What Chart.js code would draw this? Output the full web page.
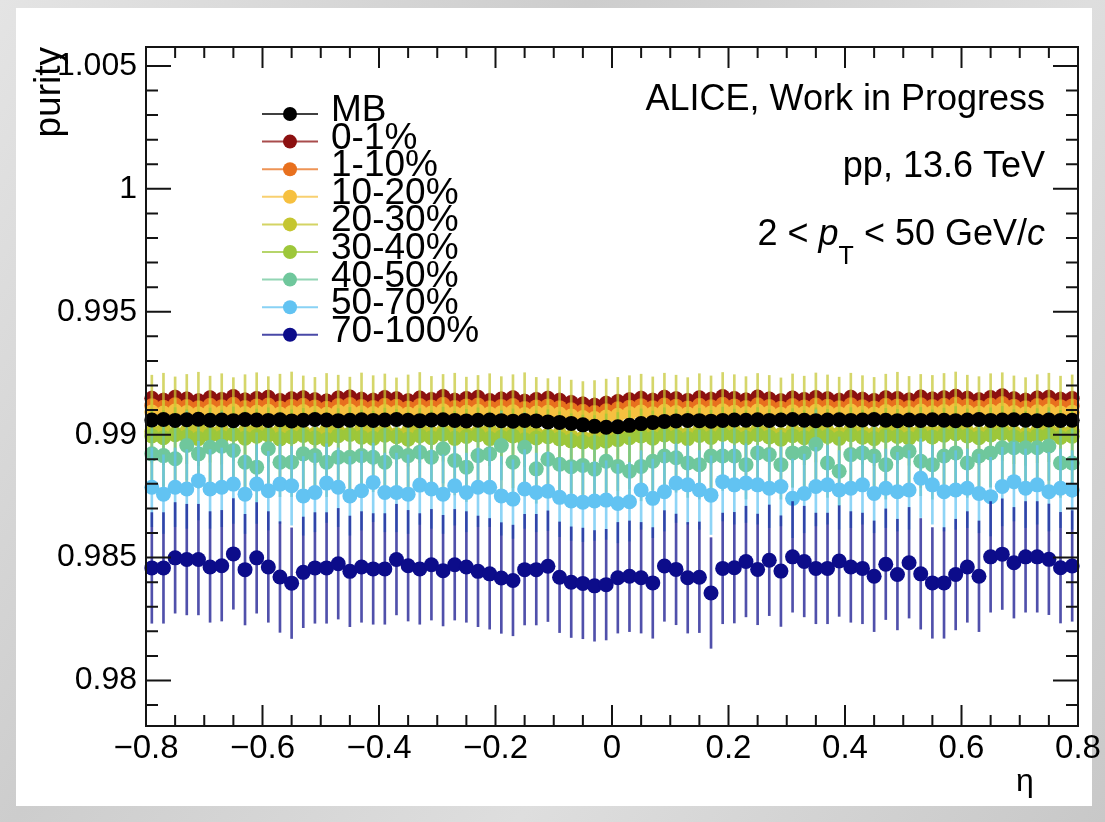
<!DOCTYPE html>
<html>
<head>
<meta charset="utf-8">
<title>purity vs eta</title>
<script src="https://cdn.jsdelivr.net/npm/chart.js@4.4.1/dist/chart.umd.min.js"></script>
<style>
  html, body { margin: 0; padding: 0; }
  body {
    width: 1105px; height: 822px; overflow: hidden; position: relative;
    background: linear-gradient(125deg, #e4e4e4 0%, #cdcdcd 35%, #dedede 65%, #c8c8c8 100%);
  }
  #panel { position: absolute; left: 16px; top: 8px; width: 1076px; height: 798px; background: #fff; }
  #purityChart { position: absolute; left: 0; top: 0; }
</style>
</head>
<body>
<div id="panel"></div>
<canvas id="purityChart" width="1105" height="822"></canvas>
<script>
// eta bin centres (80 bins, width 0.02)
const eta = [
  -0.79, -0.77, -0.75, -0.73, -0.71, -0.69, -0.67, -0.65, -0.63, -0.61,
  -0.59, -0.57, -0.55, -0.53, -0.51, -0.49, -0.47, -0.45, -0.43, -0.41,
  -0.39, -0.37, -0.35, -0.33, -0.31, -0.29, -0.27, -0.25, -0.23, -0.21,
  -0.19, -0.17, -0.15, -0.13, -0.11, -0.09, -0.07, -0.05, -0.03, -0.01,
  0.01, 0.03, 0.05, 0.07, 0.09, 0.11, 0.13, 0.15, 0.17, 0.19,
  0.21, 0.23, 0.25, 0.27, 0.29, 0.31, 0.33, 0.35, 0.37, 0.39,
  0.41, 0.43, 0.45, 0.47, 0.49, 0.51, 0.53, 0.55, 0.57, 0.59,
  0.61, 0.63, 0.65, 0.67, 0.69, 0.71, 0.73, 0.75, 0.77, 0.79
];

const centLabels = ['MB', '0-1%', '1-10%', '10-20%', '20-30%', '30-40%', '40-50%', '50-70%', '70-100%'];
const centColors = ['#000000', '#8c1010', '#e8701e', '#f6c040', '#c5c630', '#9dc73a', '#6fc79c', '#62c3f2', '#0c0c8a'];

const purityMB = [
  0.99060, 0.99062, 0.99058, 0.99061, 0.99063, 0.99059, 0.99060, 0.99057, 0.99062, 0.99060,
  0.99058, 0.99061, 0.99056, 0.99059, 0.99062, 0.99060, 0.99057, 0.99059, 0.99061, 0.99058,
  0.99060, 0.99062, 0.99059, 0.99057, 0.99060, 0.99061, 0.99058, 0.99056, 0.99059, 0.99060,
  0.99057, 0.99055, 0.99058, 0.99056, 0.99052, 0.99050, 0.99046, 0.99040, 0.99034, 0.99030,
  0.99032, 0.99038, 0.99045, 0.99050, 0.99054, 0.99056, 0.99058, 0.99057, 0.99055, 0.99058,
  0.99060, 0.99059, 0.99061, 0.99058, 0.99060, 0.99062, 0.99059, 0.99057, 0.99060, 0.99061,
  0.99058, 0.99060, 0.99062, 0.99059, 0.99057, 0.99060, 0.99058, 0.99061, 0.99059, 0.99057,
  0.99060, 0.99062, 0.99058, 0.99060, 0.99061, 0.99059, 0.99057, 0.99060, 0.99058, 0.99059
];
const purity0to1 = [
  0.99148, 0.99140, 0.99152, 0.99145, 0.99138, 0.99150, 0.99143, 0.99155, 0.99141, 0.99147,
  0.99152, 0.99139, 0.99146, 0.99150, 0.99142, 0.99137, 0.99149, 0.99153, 0.99144, 0.99140,
  0.99151, 0.99146, 0.99138, 0.99149, 0.99143, 0.99155, 0.99140, 0.99147, 0.99152, 0.99139,
  0.99145, 0.99150, 0.99136, 0.99143, 0.99148, 0.99140, 0.99131, 0.99125, 0.99120, 0.99128,
  0.99135, 0.99142, 0.99148, 0.99140, 0.99152, 0.99146, 0.99139, 0.99150, 0.99144, 0.99155,
  0.99147, 0.99141, 0.99153, 0.99145, 0.99138, 0.99149, 0.99143, 0.99151, 0.99146, 0.99140,
  0.99152, 0.99144, 0.99139, 0.99150, 0.99147, 0.99141, 0.99153, 0.99145, 0.99150, 0.99156,
  0.99148, 0.99142, 0.99151, 0.99158, 0.99146, 0.99140, 0.99149, 0.99152, 0.99144, 0.99147
];
const purity1to10 = [
  0.99118, 0.99112, 0.99122, 0.99115, 0.99110, 0.99120, 0.99114, 0.99124, 0.99111, 0.99117,
  0.99121, 0.99109, 0.99116, 0.99120, 0.99113, 0.99108, 0.99119, 0.99123, 0.99115, 0.99111,
  0.99120, 0.99116, 0.99109, 0.99119, 0.99113, 0.99124, 0.99111, 0.99117, 0.99121, 0.99110,
  0.99115, 0.99119, 0.99107, 0.99113, 0.99117, 0.99110, 0.99101, 0.99095, 0.99090, 0.99097,
  0.99105, 0.99112, 0.99118, 0.99110, 0.99121, 0.99116, 0.99109, 0.99120, 0.99114, 0.99124,
  0.99117, 0.99111, 0.99122, 0.99115, 0.99108, 0.99119, 0.99113, 0.99121, 0.99116, 0.99110,
  0.99122, 0.99114, 0.99109, 0.99120, 0.99117, 0.99111, 0.99122, 0.99115, 0.99120, 0.99125,
  0.99118, 0.99112, 0.99121, 0.99127, 0.99116, 0.99110, 0.99119, 0.99122, 0.99114, 0.99117
];
const purity10to20 = [
  0.99092, 0.99088, 0.99096, 0.99090, 0.99085, 0.99094, 0.99089, 0.99097, 0.99086, 0.99091,
  0.99095, 0.99084, 0.99090, 0.99094, 0.99087, 0.99083, 0.99093, 0.99096, 0.99089, 0.99086,
  0.99094, 0.99090, 0.99084, 0.99093, 0.99088, 0.99097, 0.99086, 0.99091, 0.99095, 0.99085,
  0.99089, 0.99093, 0.99082, 0.99088, 0.99091, 0.99084, 0.99076, 0.99070, 0.99066, 0.99072,
  0.99079, 0.99086, 0.99092, 0.99085, 0.99095, 0.99090, 0.99084, 0.99094, 0.99088, 0.99097,
  0.99091, 0.99086, 0.99096, 0.99089, 0.99083, 0.99093, 0.99087, 0.99095, 0.99090, 0.99085,
  0.99096, 0.99088, 0.99084, 0.99094, 0.99091, 0.99086, 0.99096, 0.99089, 0.99094, 0.99098,
  0.99092, 0.99087, 0.99095, 0.99100, 0.99090, 0.99085, 0.99093, 0.99096, 0.99088, 0.99091
];
const purity20to30 = [
  0.99012, 0.99020, 0.99005, 0.99015, 0.99024, 0.99008, 0.99018, 0.99002, 0.99014, 0.99022,
  0.99006, 0.99016, 0.99025, 0.99009, 0.99003, 0.99019, 0.99012, 0.99004, 0.99021, 0.99010,
  0.99017, 0.99001, 0.99013, 0.99023, 0.99007, 0.99015, 0.99020, 0.99004, 0.99011, 0.99018,
  0.99006, 0.99014, 0.99022, 0.99003, 0.98998, 0.99005, 0.98992, 0.98986, 0.98990, 0.98996,
  0.99003, 0.99010, 0.99016, 0.99005, 0.99020, 0.99012, 0.99002, 0.99018, 0.99009, 0.99023,
  0.99014, 0.99006, 0.99019, 0.99011, 0.99001, 0.99017, 0.99008, 0.99021, 0.99013, 0.99004,
  0.99020, 0.99010, 0.99003, 0.99016, 0.99024, 0.99007, 0.99015, 0.99011, 0.99019, 0.99025,
  0.99012, 0.99006, 0.99018, 0.99022, 0.99009, 0.99002, 0.99014, 0.99020, 0.99008, 0.99013
];
const purity30to40 = [
  0.98995, 0.98988, 0.99000, 0.98992, 0.98984, 0.98998, 0.98990, 0.99003, 0.98986, 0.98994,
  0.98999, 0.98983, 0.98991, 0.98997, 0.98987, 0.98980, 0.98996, 0.99001, 0.98990, 0.98985,
  0.98998, 0.98992, 0.98982, 0.98996, 0.98988, 0.99002, 0.98985, 0.98993, 0.98999, 0.98984,
  0.98990, 0.98995, 0.98979, 0.98987, 0.98992, 0.98983, 0.98975, 0.98970, 0.98968, 0.98974,
  0.98980, 0.98988, 0.98995, 0.98986, 0.98999, 0.98992, 0.98984, 0.98997, 0.98989, 0.99002,
  0.98994, 0.98987, 0.99000, 0.98991, 0.98982, 0.98996, 0.98988, 0.98999, 0.98993, 0.98985,
  0.99000, 0.98990, 0.98984, 0.98997, 0.98993, 0.98986, 0.99001, 0.98991, 0.98998, 0.99004,
  0.98995, 0.98988, 0.98999, 0.99005, 0.98992, 0.98985, 0.98996, 0.99000, 0.98989, 0.98994
];
const purity40to50 = [
  0.98922, 0.98915, 0.98902, 0.98956, 0.98922, 0.98949, 0.98953, 0.98936, 0.98888, 0.98868,
  0.98943, 0.98888, 0.98888, 0.98922, 0.98915, 0.98888, 0.98908, 0.98908, 0.98915, 0.98908,
  0.98888, 0.98929, 0.98915, 0.98929, 0.98908, 0.98943, 0.98895, 0.98868, 0.98915, 0.98922,
  0.98956, 0.98888, 0.98949, 0.98861, 0.98900, 0.98880, 0.98870, 0.98875, 0.98860, 0.98892,
  0.98871, 0.98851, 0.98871, 0.98892, 0.98913, 0.98906, 0.98885, 0.98878, 0.98913, 0.98913,
  0.98913, 0.98878, 0.98926, 0.98919, 0.98878, 0.98926, 0.98926, 0.98961, 0.98885, 0.98851,
  0.98919, 0.98926, 0.98913, 0.98878, 0.98926, 0.98933, 0.98892, 0.98878, 0.98913, 0.98926,
  0.98885, 0.98913, 0.98926, 0.98947, 0.98947, 0.98947, 0.98947, 0.98954, 0.98885, 0.98885
];
const purity50to70 = [
  0.98786, 0.98758, 0.98786, 0.98779, 0.98813, 0.98779, 0.98786, 0.98799, 0.98758, 0.98799,
  0.98772, 0.98799, 0.98792, 0.98751, 0.98765, 0.98803, 0.98786, 0.98751, 0.98772, 0.98806,
  0.98765, 0.98765, 0.98758, 0.98795, 0.98779, 0.98758, 0.98792, 0.98765, 0.98786, 0.98786,
  0.98751, 0.98738, 0.98779, 0.98765, 0.98770, 0.98745, 0.98730, 0.98725, 0.98730, 0.98734,
  0.98720, 0.98727, 0.98775, 0.98741, 0.98768, 0.98803, 0.98796, 0.98775, 0.98754, 0.98809,
  0.98796, 0.98803, 0.98796, 0.98782, 0.98789, 0.98741, 0.98761, 0.98789, 0.98796, 0.98775,
  0.98782, 0.98796, 0.98761, 0.98782, 0.98768, 0.98775, 0.98823, 0.98796, 0.98768, 0.98775,
  0.98782, 0.98761, 0.98748, 0.98789, 0.98809, 0.98782, 0.98796, 0.98768, 0.98782, 0.98775
];
const purity70to100 = [
  0.98458, 0.98458, 0.98499, 0.98492, 0.98492, 0.98462, 0.98467, 0.98515, 0.98451, 0.98499,
  0.98462, 0.98421, 0.98396, 0.98440, 0.98458, 0.98458, 0.98475, 0.98444, 0.98462, 0.98454,
  0.98454, 0.98492, 0.98467, 0.98454, 0.98471, 0.98447, 0.98471, 0.98462, 0.98444, 0.98434,
  0.98417, 0.98407, 0.98451, 0.98451, 0.98465, 0.98420, 0.98400, 0.98395, 0.98385, 0.98390,
  0.98418, 0.98424, 0.98418, 0.98397, 0.98466, 0.98452, 0.98418, 0.98420, 0.98356, 0.98456,
  0.98459, 0.98484, 0.98452, 0.98489, 0.98445, 0.98503, 0.98484, 0.98456, 0.98456, 0.98486,
  0.98462, 0.98456, 0.98424, 0.98473, 0.98431, 0.98479, 0.98434, 0.98397, 0.98397, 0.98431,
  0.98462, 0.98424, 0.98503, 0.98514, 0.98479, 0.98503, 0.98503, 0.98493, 0.98459, 0.98466
];

// statistical uncertainty per class (symmetric)
const centErrors = [0.0001, 0.0003, 0.0002, 0.0005, 0.0023, 0.0011, 0.0014, 0.0016, 0.00225];

const centValues = [purityMB, purity0to1, purity1to10, purity10to20, purity20to30,
  purity30to40, purity40to50, purity50to70, purity70to100];

const FONT = "'Liberation Sans', Arial, Helvetica, sans-serif";

function fade(hex, a) {
    const n = parseInt(hex.slice(1), 16);
    return `rgba(${(n >> 16) & 255}, ${(n >> 8) & 255}, ${n & 255}, ${a})`;
}

// one marker dataset and one error-bar dataset (floating bars) per class
const datasets = [];
centLabels.forEach((label, i) => {
    const order = i === 0 ? 0 : centLabels.length - i; // MB drawn last, 0-1% first
    const vals = centValues[i];
    const err = centErrors[i];
    datasets.push({
        type: 'scatter',
        label: label,
        order: order,
        data: eta.map((x, k) => ({ x: x, y: vals[k] })),
        backgroundColor: centColors[i],
        borderColor: centColors[i],
        pointRadius: 7.5,
        pointHoverRadius: 7.5,
        pointBorderWidth: 0,
        clip: false
    });
    datasets.push({
        type: 'bar',
        label: label + ' stat',
        order: order,
        data: eta.map((x, k) => ({ x: x, y: [vals[k] - err, vals[k] + err] })),
        backgroundColor: fade(centColors[i], 0.72),
        borderWidth: 0,
        grouped: false,
        barThickness: 2,
        maxBarThickness: 2
    });
});

// ROOT-like frame with inward major/minor ticks on all four sides
const rootFrame = {
    id: 'rootFrame',
    afterDatasetsDraw(chart) {
        const { ctx, chartArea: a, scales: { x, y } } = chart;
        ctx.save();
        ctx.strokeStyle = '#141414';
        ctx.lineWidth = 2;
        ctx.beginPath();
        for (let k = 0; k <= 32; k++) {
            const px = x.getPixelForValue(-0.8 + k * 0.05);
            const len = k % 4 === 0 ? 21 : 11;
            ctx.moveTo(px, a.bottom); ctx.lineTo(px, a.bottom - len);
            ctx.moveTo(px, a.top); ctx.lineTo(px, a.top + len);
        }
        for (let m = 979; m <= 1005; m++) {
            const py = y.getPixelForValue(m / 1000);
            const len = m % 5 === 0 ? 25 : 12;
            ctx.moveTo(a.left, py); ctx.lineTo(a.left + len, py);
            ctx.moveTo(a.right, py); ctx.lineTo(a.right - len, py);
        }
        ctx.stroke();
        ctx.strokeRect(a.left, a.top, a.right - a.left, a.bottom - a.top);
        ctx.restore();
    }
};

// legend, labels and axis title eta
const rootText = {
    id: 'rootText',
    afterDraw(chart) {
        const ctx = chart.ctx;
        ctx.save();
        ctx.fillStyle = '#000';
        ctx.textBaseline = 'alphabetic';

        // legend block
        centLabels.forEach((label, i) => {
            const ly = 114 + i * 27.6;
            ctx.strokeStyle = fade(centColors[i], 0.75);
            ctx.lineWidth = 2;
            ctx.beginPath();
            ctx.moveTo(262, ly); ctx.lineTo(318, ly);
            ctx.stroke();
            ctx.fillStyle = centColors[i];
            ctx.beginPath();
            ctx.arc(290, ly, 7, 0, Math.PI * 2);
            ctx.fill();
            ctx.fillStyle = '#000';
            ctx.font = `37px ${FONT}`;
            ctx.textAlign = 'left';
            ctx.fillText(label, 331, ly + 7);
        });

        // right-hand labels
        ctx.textAlign = 'right';
        ctx.font = `36px ${FONT}`;
        ctx.fillText('ALICE, Work in Progress', 1045, 110);
        ctx.fillText('pp, 13.6 TeV', 1045, 177);

        const pieces = [
            { text: '2 < ', font: `36px ${FONT}`, dy: 0 },
            { text: 'p', font: `italic 36px ${FONT}`, dy: 0 },
            { text: 'T', font: `25px ${FONT}`, dy: 19 },
            { text: ' < 50 GeV/', font: `36px ${FONT}`, dy: 0 },
            { text: 'c', font: `italic 36px ${FONT}`, dy: 0 }
        ];
        let total = 0;
        pieces.forEach(p => { ctx.font = p.font; p.w = ctx.measureText(p.text).width; total += p.w; });
        let px = 1045 - total;
        ctx.textAlign = 'left';
        pieces.forEach(p => {
            ctx.font = p.font;
            ctx.fillText(p.text, px, 245 + p.dy);
            px += p.w;
        });

        // x axis title
        ctx.textAlign = 'center';
        ctx.font = `32px ${FONT}`;
        ctx.fillText('\u03b7', 1025, 791);
        ctx.restore();
    }
};

const ctx = document.getElementById('purityChart').getContext('2d');
new Chart(ctx, {
    type: 'scatter',
    data: { datasets: datasets },
    options: {
        responsive: false,
        animation: false,
        events: [],
        layout: { padding: { top: 47, right: 27, bottom: 0, left: 0 } },
        plugins: {
            legend: { display: false },
            tooltip: { enabled: false }
        },
        scales: {
            x: {
                type: 'linear',
                min: -0.8,
                max: 0.8,
                offset: false,
                grid: { display: false, drawTicks: false, offset: false },
                border: { display: false },
                ticks: {
                    stepSize: 0.2,
                    autoSkip: false,
                    maxRotation: 0,
                    padding: 3,
                    color: '#000',
                    font: { family: FONT, size: 33 },
                    callback: v => {
                        const r = Math.round(v * 10) / 10;
                        return r === 0 ? '0' : r.toFixed(1).replace('-', '\u2212');
                    }
                },
                afterFit: scale => {
                    scale.height = 96;
                    scale.paddingLeft = 0;
                    scale.paddingRight = 0;
                }
            },
            y: {
                type: 'linear',
                min: 0.97815,
                max: 1.00577,
                beginAtZero: false,
                grid: { display: false, drawTicks: false },
                border: { display: false },
                title: {
                    display: true,
                    text: 'purity',
                    align: 'end',
                    color: '#000',
                    font: { family: FONT, size: 37 },
                    padding: { top: 28, bottom: 0 }
                },
                ticks: {
                    stepSize: 0.005,
                    includeBounds: false,
                    autoSkip: false,
                    padding: 9,
                    color: '#000',
                    font: { family: FONT, size: 32 },
                    callback: v => String(parseFloat(v.toFixed(4)))
                },
                afterFit: scale => {
                    scale.width = 146;
                    scale.paddingTop = 0;
                    scale.paddingBottom = 0;
                }
            }
        }
    },
    plugins: [rootFrame, rootText]
});
</script>
</body>
</html>
